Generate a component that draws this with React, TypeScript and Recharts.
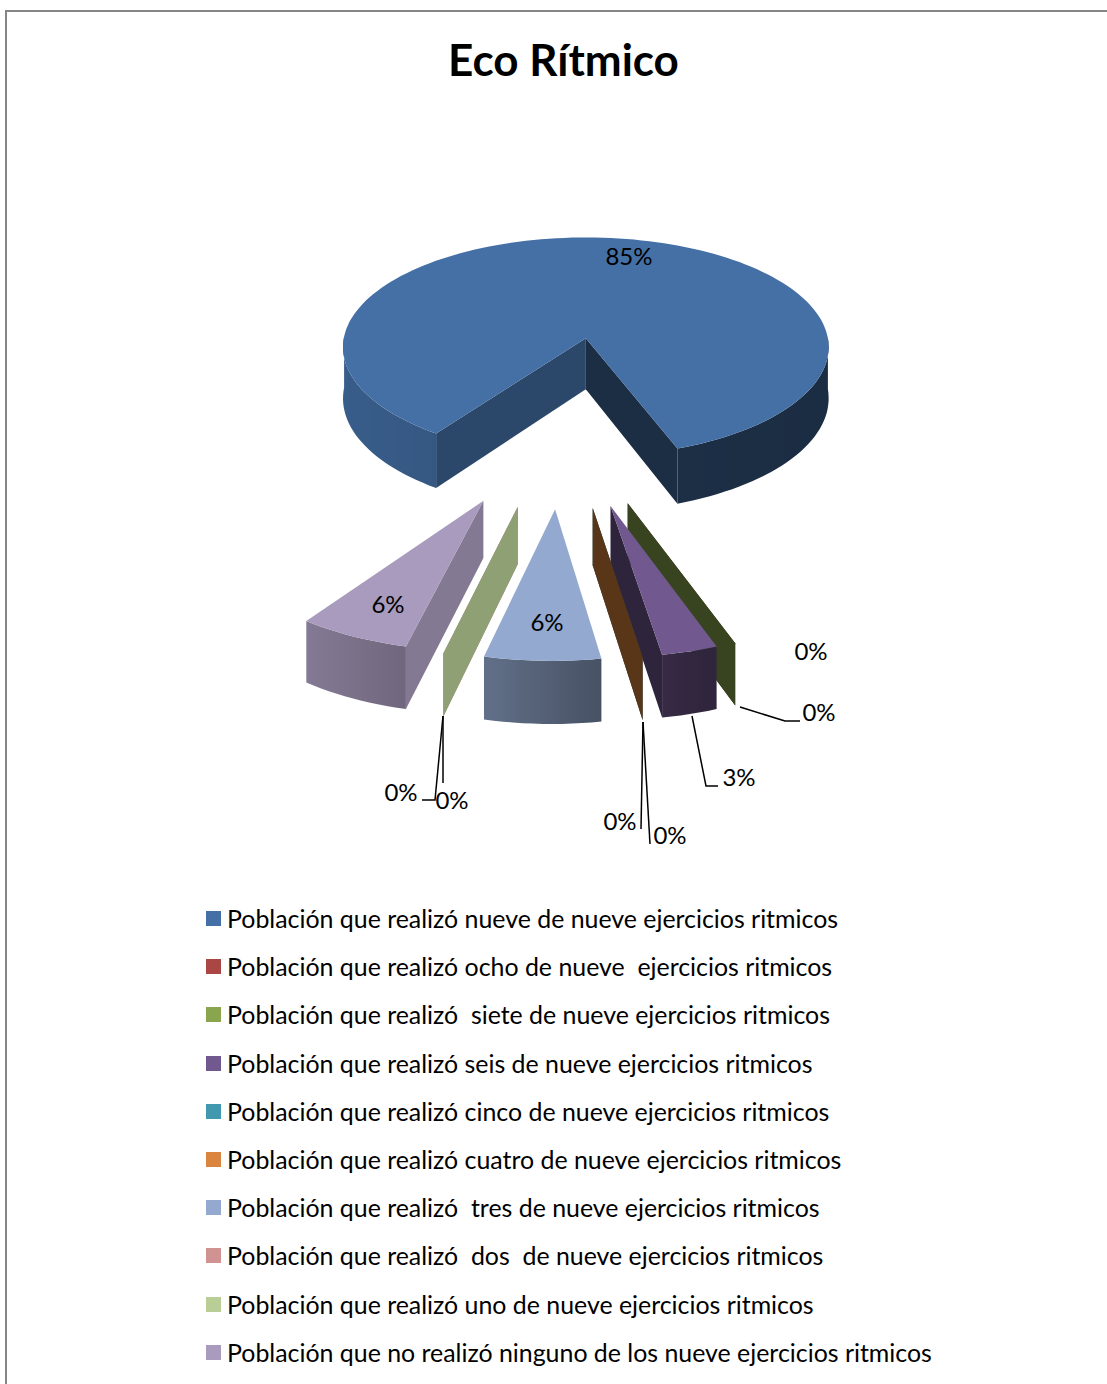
import React from "react";
import { PieChart, Pie, Legend } from "recharts";

const categories = [
  "Población que realizó nueve de nueve ejercicios ritmicos",
  "Población que realizó ocho de nueve  ejercicios ritmicos",
  "Población que realizó  siete de nueve ejercicios ritmicos",
  "Población que realizó seis de nueve ejercicios ritmicos",
  "Población que realizó cinco de nueve ejercicios ritmicos",
  "Población que realizó cuatro de nueve ejercicios ritmicos",
  "Población que realizó  tres de nueve ejercicios ritmicos",
  "Población que realizó  dos  de nueve ejercicios ritmicos",
  "Población que realizó uno de nueve ejercicios ritmicos",
  "Población que no realizó ninguno de los nueve ejercicios ritmicos",
];
// the labels round these
const percents = [84.5, 0, 0, 3.05, 0, 0, 6.3, 0, 0, 6.15];
const colors = ["#4470A6", "#AA4643", "#89A54E", "#71588F", "#4198AF", "#DB843D", "#93A9CF", "#D19392", "#B9CD96", "#A99BBD"];

// Excel placed these by hand, so they can't come from the slice angles
const labelSpots = [
  { x: 629, y: 255 },
  { x: 811, y: 650 },
  { x: 819, y: 711, line: "740,707 785,721 800,721" },
  { x: 739, y: 776, line: "692,716 706,786 718,786" },
  { x: 620, y: 820, line: "643,722 641,829" },
  { x: 670, y: 834, line: "643,722 650,844" },
  { x: 547, y: 621 },
  { x: 452, y: 799, line: "443,716 443,783" },
  { x: 401, y: 791, line: "443,716 435,800 422,800" },
  { x: 388, y: 603 },
];

const data = categories.map((name, i) => ({ name, value: percents[i], fill: colors[i] }));

const FONT = "Lato, 'Open Sans', sans-serif";

// fake 3D: pie plane seen at a tilt, with a little perspective
const SQUASH = 0.45;
const PERSPECTIVE = 0.08;
const WALL = 51;
const EXPLODE = 0.7;
const CENTER_U = -0.095;
const CENTER_V = 0.697;
const RAD = Math.PI / 180;

const shadeColor = (hex: string, k: number) => {
  const n = parseInt(hex.slice(1), 16);
  const c = [(n >> 16) & 255, (n >> 8) & 255, n & 255].map((v) => Math.round(v * k));
  return `rgb(${c[0]},${c[1]},${c[2]})`;
};

// outer wall gets darker from left to right
const arcShade = (u: number) => {
  const table = [[-1, 0.83], [-0.59, 0.79], [-0.25, 0.67], [0.125, 0.5], [0.31, 0.42], [1, 0.4]];
  for (let i = 1; i < table.length; i++) {
    if (u <= table[i][0]) {
      const t = (u - table[i - 1][0]) / (table[i][0] - table[i - 1][0]);
      return table[i - 1][1] + t * (table[i][1] - table[i - 1][1]);
    }
  }
  return 0.4;
};

const radialShade = (u: number) => (u >= 0 ? 0.41 : u > -0.35 ? 0.78 : 0.63);

const toPath = (pts: number[][]) => "M" + pts.map((p) => `${p[0].toFixed(1)},${p[1].toFixed(1)}`).join("L") + "Z";

function Slice3D(props: any) {
  const { cx, cy, outerRadius: R, startAngle, endAngle, fill } = props;
  const mid = ((startAngle + endAngle) / 2) * RAD;
  const ou = CENTER_U + EXPLODE * Math.cos(mid);
  const ov = CENTER_V - EXPLODE * Math.sin(mid);
  const project = (u: number, v: number, h = 0) => {
    const s = 1 / (1 - PERSPECTIVE * v);
    return [cx + R * u * s, cy + R * SQUASH * v * s + h * s];
  };
  const rim = (deg: number, h = 0) => project(ou + Math.cos(deg * RAD), ov - Math.sin(deg * RAD), h);

  const span = endAngle - startAngle;
  const steps = Math.max(2, Math.ceil(Math.abs(span) / 2));
  const angles = Array.from({ length: steps + 1 }, (_, i) => startAngle + (span * i) / steps);
  const apex = project(ou, ov);
  const apexLow = project(ou, ov, WALL);
  const zero = Math.abs(span) < 0.01;

  const faces = (edge: number[], inner: number[]) => {
    if (zero) return true;
    const side = (p: number[]) => (edge[0] - apex[0]) * (p[1] - apex[1]) - (edge[1] - apex[1]) * (p[0] - apex[0]);
    return side(inner) * side([apex[0], apex[1] + 1]) <= 0;
  };
  const inner = rim(startAngle + span / 2);
  const walls = (zero ? [startAngle] : [startAngle, endAngle])
    .filter((a) => faces(rim(a), inner))
    .map((a) => ({
      d: toPath([apex, rim(a), rim(a, WALL), apexLow]),
      color: shadeColor(fill, radialShade(Math.cos(a * RAD))),
    }));

  // only the part of the rim facing the viewer gets a wall
  const runs: number[][] = [];
  let run: number[] = [];
  angles.forEach((a) => {
    if (-Math.sin(a * RAD) > -0.02) run.push(a);
    else if (run.length) {
      runs.push(run);
      run = [];
    }
  });
  if (run.length) runs.push(run);

  const gid = `wall${Math.round(Math.abs(startAngle) * 10)}`;
  return (
    <g>
      {walls.map((w, i) => (
        <path key={i} d={w.d} fill={w.color} />
      ))}
      {!zero &&
        runs.filter((r) => r.length > 1).map((r, i) => {
          const top = r.map((a) => rim(a));
          const low = r.map((a) => rim(a, WALL)).reverse();
          const xs = top.map((p) => p[0]);
          const x1 = Math.min(...xs);
          const x2 = Math.max(...xs);
          const stops = r
            .map((a, j) => ({ o: (xs[j] - x1) / (x2 - x1 || 1), k: arcShade(Math.cos(a * RAD)) }))
            .sort((p, q) => p.o - q.o);
          return (
            <g key={i}>
              <defs>
                <linearGradient id={`${gid}-${i}`} gradientUnits="userSpaceOnUse" x1={x1} x2={x2} y1={0} y2={0}>
                  {stops.map((s, j) => (
                    <stop key={j} offset={s.o} stopColor={shadeColor(fill, s.k)} />
                  ))}
                </linearGradient>
              </defs>
              <path d={toPath([...top, ...low])} fill={`url(#${gid}-${i})`} />
            </g>
          );
        })}
      {!zero && <path d={toPath([apex, ...angles.map((a) => rim(a))])} fill={fill} />}
    </g>
  );
}

function PercentLabel(props: any) {
  const spot = labelSpots[props.index];
  return (
    <g>
      {spot.line && <polyline points={spot.line} fill="none" stroke="#000" strokeWidth={1.5} />}
      <text x={spot.x} y={spot.y} textAnchor="middle" dominantBaseline="central" fontFamily={FONT} fontSize={24} fill="#000">
        {Math.round(props.value)}%
      </text>
    </g>
  );
}

function LegendRows({ payload }: any) {
  return (
    <div>
      {(payload || []).map((entry: any) => (
        <div key={entry.value} style={{ height: 48.2, display: "flex", alignItems: "center", fontFamily: FONT, fontSize: 24.9, color: "#000", whiteSpace: "pre" }}>
          <span style={{ width: 15, height: 15, marginRight: 6, marginTop: 1, background: entry.color, flex: "none" }} />
          {entry.value}
        </div>
      ))}
    </div>
  );
}

export default function App() {
  return (
    <div style={{ position: "absolute", left: 0, top: 0, width: 1107, height: 1384, overflow: "hidden", background: "#fff" }}>
      <div style={{ position: "absolute", left: 5, top: 10, width: 1300, height: 1500, border: "2px solid #868686", boxSizing: "border-box" }} />
      <div style={{ position: "absolute", left: 0, top: 31, width: 1127, textAlign: "center", fontFamily: FONT, fontWeight: 700, fontSize: 44, lineHeight: "56px", color: "#000" }}>
        Eco Rítmico
      </div>
      <div style={{ position: "absolute", left: 0, top: 0 }}>
        <PieChart width={1107} height={1384} margin={{ top: 0, right: 0, bottom: 0, left: 0 }}>
          <Pie
            data={data}
            dataKey="value"
            nameKey="name"
            cx={587}
            cy={338}
            outerRadius={242}
            startAngle={-125.3}
            endAngle={-485.3}
            stroke="none"
            shape={Slice3D}
            label={PercentLabel}
            labelLine={false}
            isAnimationActive={false}
          />
          {/* centre/middle so the legend doesn't push the plot area and move the pie */}
          <Legend
            content={<LegendRows />}
            itemSorter={null}
            layout="vertical"
            verticalAlign="middle"
            align="center"
            wrapperStyle={{ left: 206, top: 894, width: 850 }}
          />
        </PieChart>
      </div>
    </div>
  );
}
